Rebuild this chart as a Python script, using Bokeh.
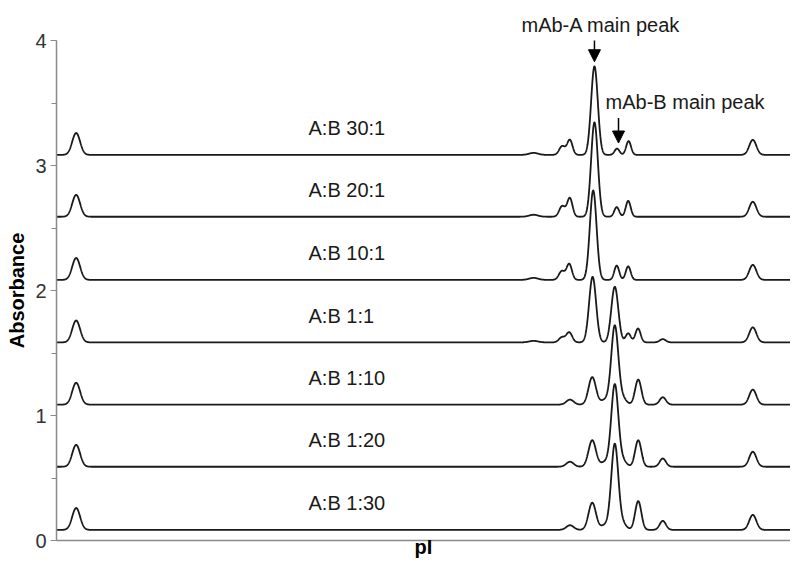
import numpy as np
from bokeh.plotting import figure
from bokeh.models import (ColumnDataSource, Label, Arrow, NormalHead, FixedTicker,
                          SingleIntervalTicker, Range1d)
from bokeh.core.properties import value
from bokeh.embed import file_html
from bokeh.resources import INLINE

# ---------------- data ----------------
ratio_labels = ["A:B 30:1", "A:B 20:1", "A:B 10:1", "A:B 1:1", "A:B 1:10", "A:B 1:20", "A:B 1:30"]
baselines = [3.085, 2.59, 2.085, 1.585, 1.087, 0.59, 0.085]

# pI markers present in every trace (x in arbitrary pI-axis units, height in absorbance)
marker_centers = [2.65, 93.84]
marker_heights = [0.175, 0.12]
marker_widths = [0.53, 0.48]

centers_30_1 = [64.3, 68.15, 69.18, 72.5, 75.54, 77.1]
heights_30_1 = [0.016, 0.07, 0.12, 0.708, 0.05, 0.11]
widths_30_1 = [0.6, 0.4, 0.36, 0.45, 0.33, 0.33]

centers_20_1 = [64.3, 68.15, 69.18, 72.5, 75.5, 77.05]
heights_20_1 = [0.016, 0.085, 0.149, 0.755, 0.077, 0.127]
widths_20_1 = [0.6, 0.4, 0.36, 0.45, 0.33, 0.33]

centers_10_1 = [64.3, 68.1, 69.1, 72.33, 75.5, 77.05]
heights_10_1 = [0.016, 0.07, 0.127, 0.716, 0.114, 0.108]
widths_10_1 = [0.6, 0.4, 0.36, 0.45, 0.33, 0.33]

centers_1_1 = [64.3, 68.1, 69.1, 72.25, 75.24, 77.05, 78.37, 81.71]
heights_1_1 = [0.012, 0.04, 0.08, 0.525, 0.445, 0.072, 0.111, 0.026]
widths_1_1 = [0.6, 0.4, 0.4, 0.47, 0.47, 0.35, 0.35, 0.4]

centers_1_10 = [69.2, 72.2, 74.0, 75.24, 76.3, 78.4, 81.71]
heights_1_10 = [0.04, 0.22, 0.04, 0.625, 0.05, 0.2, 0.059]
widths_1_10 = [0.5, 0.5, 0.6, 0.47, 0.5, 0.42, 0.42]

centers_1_20 = [69.2, 72.2, 74.0, 75.24, 76.3, 78.4, 81.71]
heights_1_20 = [0.04, 0.212, 0.04, 0.652, 0.05, 0.212, 0.066]
widths_1_20 = [0.5, 0.5, 0.6, 0.47, 0.5, 0.42, 0.42]

centers_1_30 = [69.2, 72.2, 74.0, 75.24, 76.3, 78.4, 81.71]
heights_1_30 = [0.037, 0.217, 0.04, 0.68, 0.05, 0.23, 0.072]
widths_1_30 = [0.5, 0.5, 0.6, 0.47, 0.5, 0.42, 0.42]

trace_peaks = [
    (centers_30_1, heights_30_1, widths_30_1),
    (centers_20_1, heights_20_1, widths_20_1),
    (centers_10_1, heights_10_1, widths_10_1),
    (centers_1_1, heights_1_1, widths_1_1),
    (centers_1_10, heights_1_10, widths_1_10),
    (centers_1_20, heights_1_20, widths_1_20),
    (centers_1_30, heights_1_30, widths_1_30),
]

label_x = 33.96
label_dy = 0.215

# ---------------- build figure ----------------
X_END = 98.92
x = np.linspace(0, 100, 4000)


def trace(base, centers, heights, widths):
    y = np.full_like(x, base)
    for c, h, w in zip(list(marker_centers) + list(centers),
                       list(marker_heights) + list(heights),
                       list(marker_widths) + list(widths)):
        y += h * np.exp(-0.5 * ((x - c) / w) ** 2)
    return y


FONT = "Liberation Sans"
LINE = "#1a1a1a"

W, H = 790, 560
p = figure(width=W, height=H, output_backend="svg", toolbar_location=None,
           x_range=Range1d(0, X_END), y_range=Range1d(0, 4.0),
           min_border_left=56, min_border_right=0, min_border_top=40, min_border_bottom=17,
           title="mAb-A main peak")
p.title.align = "left"
p.title.offset = 465
p.title.vertical_align = "middle"
p.title.text_font = FONT
p.title.text_font_size = "20px"
p.title.text_font_style = "normal"
p.title.text_color = "#1a1a1a"
p.title.standoff = 8
p.outline_line_color = None
p.grid.visible = False
p.background_fill_color = "white"
p.border_fill_color = "white"

for base, (c, h, w) in zip(baselines, trace_peaks):
    p.line(x, trace(base, c, h, w), line_color=LINE, line_width=1.8)

src = ColumnDataSource(dict(x=[label_x] * len(baselines),
                            y=[b + label_dy for b in baselines],
                            t=ratio_labels))
p.text(x="x", y="y", text="t", source=src, text_font=value(FONT),
       text_font_size="20px", text_color="#1a1a1a", text_baseline="middle", text_align="left")

# annotations
p.add_layout(Arrow(x_start=72.5, y_start=4.04, x_end=72.5, y_end=3.83,
                   line_color="black", line_width=1.5,
                   end=NormalHead(size=12, fill_color="black", line_color="black")))
p.add_layout(Label(x=74.0, y=3.51, text="mAb-B main peak", text_font=FONT,
                   text_font_size="20px", text_color="#1a1a1a", text_baseline="middle"))
p.add_layout(Arrow(x_start=75.74, y_start=3.38, x_end=75.74, y_end=3.18,
                   line_color="black", line_width=1.5,
                   end=NormalHead(size=12, fill_color="black", line_color="black")))

# axes
ya = p.yaxis[0]
ya.ticker = SingleIntervalTicker(interval=1, num_minor_ticks=2)
ya.bounds = (0, 4)
ya.axis_line_color = "#8a8a8a"
ya.axis_line_width = 1.5
ya.major_tick_line_color = "#8a8a8a"
ya.minor_tick_line_color = "#8a8a8a"
ya.major_tick_in = 0
ya.major_tick_out = 6
ya.minor_tick_in = 0
ya.minor_tick_out = 5
ya.major_label_text_font = FONT
ya.major_label_text_font_size = "20px"
ya.major_label_text_color = "#333333"
ya.major_label_standoff = 4
ya.axis_label = "Absorbance"
ya.axis_label_text_font = FONT
ya.axis_label_text_font_size = "20px"
ya.axis_label_text_font_style = "bold"
ya.axis_label_text_color = "black"
ya.axis_label_standoff = 4

xa = p.xaxis[0]
xa.ticker = FixedTicker(ticks=[])
xa.axis_line_color = "#8a8a8a"
xa.axis_line_width = 1.5
xa.major_tick_line_color = None
xa.minor_tick_line_color = None
xa.major_tick_out = 0
xa.major_tick_in = 0
xa.major_label_standoff = 0
xa.major_label_text_font_size = "0px"
xa.axis_label = "pI"
xa.axis_label_text_font = FONT
xa.axis_label_text_font_size = "20px"
xa.axis_label_text_font_style = "bold"
xa.axis_label_text_color = "black"
xa.axis_label_standoff = -5

open("out.html", "w").write(file_html(p, INLINE))
